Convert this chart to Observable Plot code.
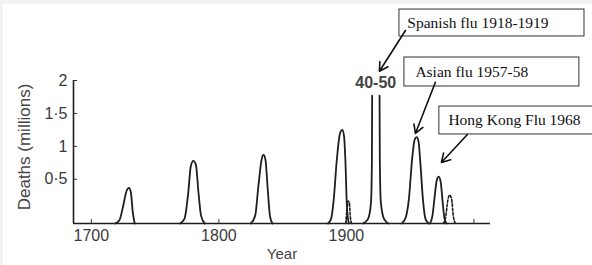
<!DOCTYPE html>
<html><head><meta charset="utf-8">
<script src="https://cdn.jsdelivr.net/npm/d3@7"></script>
<script src="https://cdn.jsdelivr.net/npm/@observablehq/plot@0.6"></script>
<style>
html,body{margin:0;padding:0;background:#f1f2f4;width:592px;height:265px;overflow:hidden}
#chart{position:absolute;left:3px;top:4px;width:589px;height:261px;background:#fff}
#chart svg{display:block}
</style></head><body><div id="chart"></div>
<script>
// ---- data ----
const floorValue = -0.17;               // level of the drawn baseline
const xDomain = [1686, 2013];
const xTicks = [1700, 1800, 1900, 2000];
const yTicks = [0.5, 1, 1.5, 2];

const years1729 = [1718.5, 1722, 1725, 1727.5, 1729.5, 1731, 1732.5, 1734];
const deaths1729 = [-0.17, -0.12, 0.1, 0.32, 0.37, 0.3, 0.0, -0.17];

const years1780 = [1769.5, 1773, 1776, 1778, 1780, 1782, 1784, 1786, 1789];
const deaths1780 = [-0.17, -0.1, 0.3, 0.7, 0.78, 0.72, 0.3, -0.05, -0.17];

const years1835 = [1825, 1828.5, 1831, 1833.5, 1835, 1836.5, 1838.5, 1840, 1842];
const deaths1835 = [-0.17, -0.05, 0.4, 0.8, 0.87, 0.8, 0.3, -0.05, -0.17];

const years1897 = [1885.5, 1888, 1890, 1892.5, 1895, 1896.8, 1898.2, 1899.2, 1900.5, 1902];
const deaths1897 = [-0.17, -0.1, 0.18, 0.8, 1.2, 1.25, 1.15, 0.79, 0.05, -0.17];

const yearsSpanishRise = [1913, 1917, 1919.3, 1920, 1920.2];
const deathsSpanishRise = [-0.17, -0.1, 0.15, 0.8, 1.77];
const yearsSpanishFall = [1926, 1926.2, 1927, 1929.5, 1933];
const deathsSpanishFall = [1.77, 0.8, 0.15, -0.1, -0.17];

const yearsAsian = [1943.5, 1946.5, 1949, 1951.5, 1953.5, 1955, 1956.5, 1958, 1960, 1962, 1964.5];
const deathsAsian = [-0.17, -0.08, 0.2, 0.8, 1.1, 1.14, 1.08, 0.75, 0.2, -0.1, -0.17];

const yearsHongKong = [1965.5, 1967.5, 1969, 1970.8, 1972.4, 1974, 1975.5, 1976.8, 1978.5];
const deathsHongKong = [-0.17, -0.05, 0.2, 0.48, 0.54, 0.45, 0.15, -0.08, -0.17];

// dashed (minor) peaks
const years1901 = [1899.5, 1900.5, 1901.3, 1902.3, 1903, 1904];
const deaths1901 = [-0.17, 0.05, 0.17, 0.15, -0.05, -0.17];
const years1981 = [1976, 1978, 1979.5, 1981, 1982.5, 1983.8, 1985.5];
const deaths1981 = [-0.17, -0.05, 0.18, 0.26, 0.2, -0.05, -0.17];

// annotations
const offScaleLabel = "40-50";
const offScaleYear = 1923;
const offScaleValue = 1.97;

const noteLabels = ["Spanish flu 1918-1919", "Asian flu 1957-58", "Hong Kong Flu 1968"];
const noteBoxX1 = [1941.6, 1945.5, 1972.9];
const noteBoxX2 = [2086.7, 2082.7, 2099.2];
const noteBoxTop = [3.077, 2.349, 1.605];
const noteBoxBottom = [2.668, 1.909, 1.181];
const noteTextX = [1947.8, 1954.1, 1980.0];
const noteTextY = [2.873, 2.129, 1.393];
const arrowX1 = [1946.3, 1969.8, 1994.9];
const arrowY1 = [2.759, 1.974, 1.181];
const arrowX2 = [1925.9, 1954.1, 1974.5];
const arrowY2 = [2.141, 1.196, 0.756];

// ---- build tables ----
function rows(seg, ys, ds) { return ys.map((y, i) => ({seg, year: y, deaths: ds[i]})); }
const solid = [
  ...rows("1729", years1729, deaths1729),
  ...rows("1780", years1780, deaths1780),
  ...rows("1835", years1835, deaths1835),
  ...rows("1897", years1897, deaths1897),
  ...rows("spanishRise", yearsSpanishRise, deathsSpanishRise),
  ...rows("spanishFall", yearsSpanishFall, deathsSpanishFall),
  ...rows("asian", yearsAsian, deathsAsian),
  ...rows("hk", yearsHongKong, deathsHongKong)
];
const dashed = [...rows("1901", years1901, deaths1901), ...rows("1981", years1981, deaths1981)];
const notes = noteLabels.map((t, i) => ({
  t, bx1: noteBoxX1[i], bx2: noteBoxX2[i], by1: noteBoxBottom[i], by2: noteBoxTop[i],
  tx: noteTextX[i], ty: noteTextY[i],
  ax1: arrowX1[i], ay1: arrowY1[i], ax2: arrowX2[i], ay2: arrowY2[i]
}));

const ink = "#1e1e1e";
const chart = Plot.plot({
  width: 589, height: 261,
  marginLeft: 70, marginRight: 102, marginTop: 76, marginBottom: 42,
  style: {fontFamily: "'Liberation Sans', Arial, sans-serif", fontSize: "16px", background: "#fff", color: "#333", overflow: "visible"},
  x: {domain: xDomain},
  y: {domain: [floorValue, 2]},
  marks: [
    Plot.axisX({ticks: xTicks, tickFormat: d => d === 2000 ? "" : String(d), tickSize: -4, tickPadding: 10, label: null, stroke: "#333", fill: "#3a3a3a", fontSize: 16}),
    Plot.axisY({ticks: yTicks, tickFormat: d => String(d).replace(".", "·"), tickSize: -4, tickPadding: 10, label: null, stroke: "#333", fill: "#3a3a3a", fontSize: 16}),
    Plot.ruleY([floorValue], {stroke: ink, strokeWidth: 1.7}),
    Plot.ruleX([xDomain[0]], {y1: floorValue, y2: 2, stroke: ink, strokeWidth: 1.6}),
    Plot.line(solid, {x: "year", y: "deaths", z: "seg", curve: "monotone-x", stroke: ink, strokeWidth: 1.8}),
    Plot.line(dashed, {x: "year", y: "deaths", z: "seg", curve: "monotone-x", stroke: ink, strokeWidth: 1.6, strokeDasharray: "2.5,1.8"}),
    Plot.text([offScaleLabel], {x: offScaleYear, y: offScaleValue, text: d => d, fontWeight: "bold", fontSize: 16, fill: "#444"}),
    Plot.text(["Deaths (millions)"], {frameAnchor: "left", textAnchor: "middle", text: d => d, rotate: -90, dx: -49, dy: -5, fontSize: 17, fill: "#444"}),
    Plot.text(["Year"], {frameAnchor: "bottom", text: d => d, dy: 35, fontSize: 15, fill: "#444"}),
    Plot.rect(notes, {x1: "bx1", x2: "bx2", y1: "by1", y2: "by2", fill: "#fff", stroke: "#333", strokeWidth: 1}),
    Plot.text(notes, {x: "tx", y: "ty", text: "t", textAnchor: "start", fontFamily: "'Liberation Serif', 'Times New Roman', serif", fontSize: 15.5, fill: "#111"}),
    Plot.arrow(notes, {x1: "ax1", y1: "ay1", x2: "ax2", y2: "ay2", stroke: "#111", strokeWidth: 1.6, headLength: 9})
  ]
});
document.getElementById("chart").appendChild(chart);
</script></body></html>
